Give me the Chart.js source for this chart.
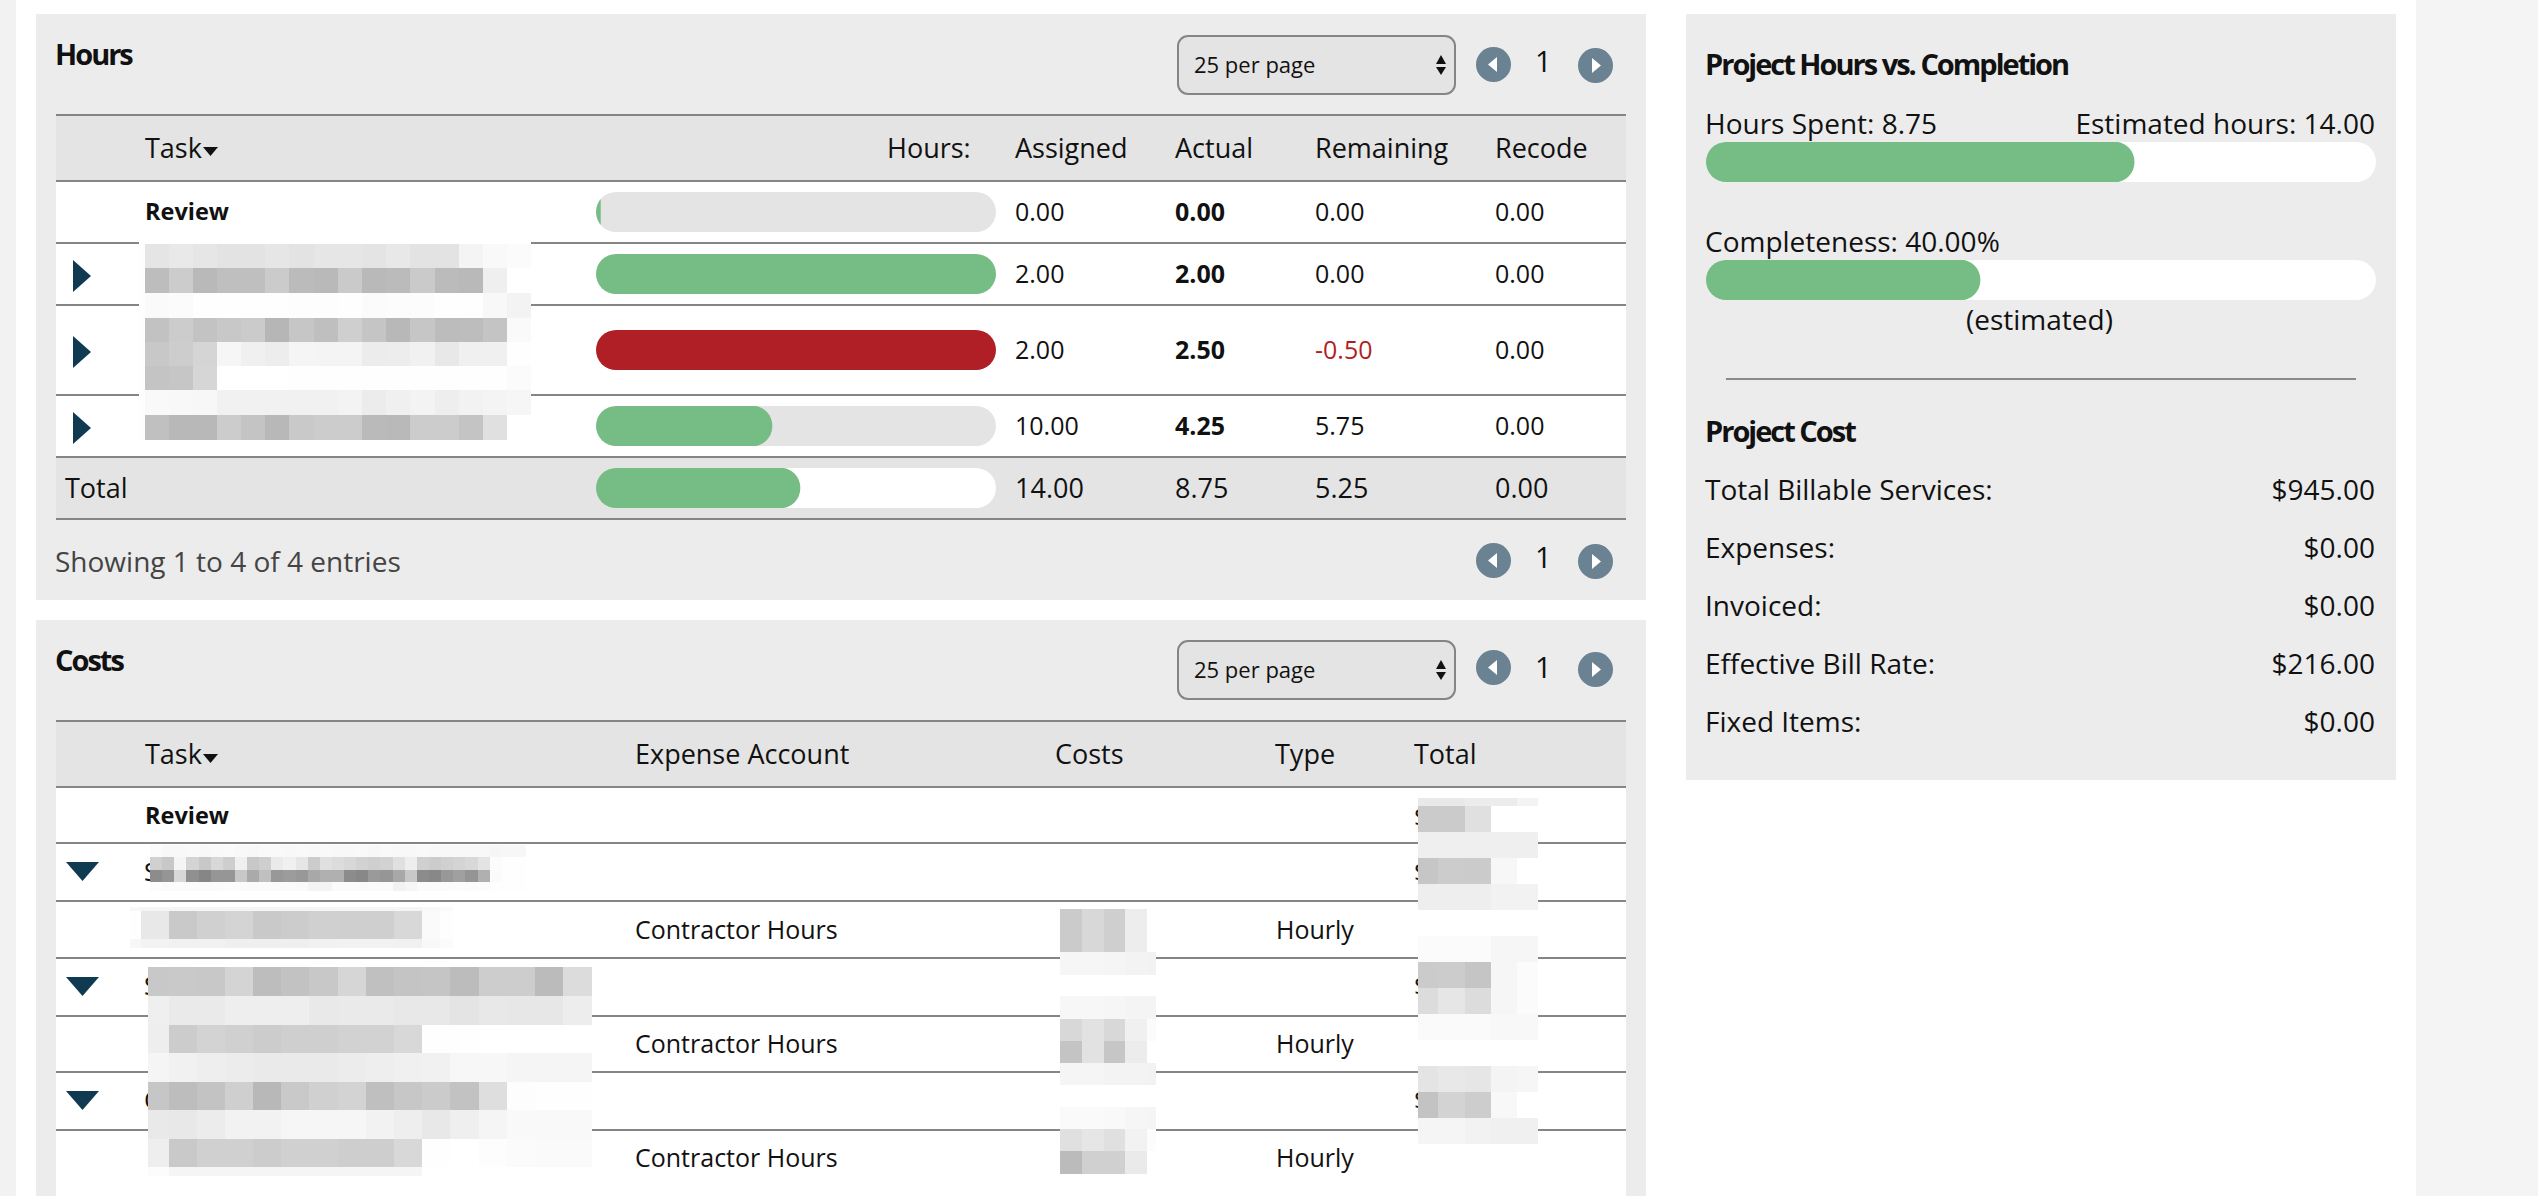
<!DOCTYPE html>
<html>
<head>
<meta charset="utf-8">
<title>Project hours</title>
<script src="https://cdn.jsdelivr.net/npm/chart.js@4/dist/chart.umd.min.js"></script>
<style>
html, body { margin: 0; padding: 0; width: 2538px; height: 1196px; overflow: hidden; background: #fff; }
body { position: relative; font-family: "Open Sans", sans-serif; color: #111; }
.box { position: absolute; }
.txt { position: absolute; white-space: nowrap; line-height: 40px; height: 40px; }
.bar { position: absolute; overflow: hidden; border-radius: 20px; }
.bar canvas { display: block; }
</style>
</head>
<body>
<script>
// hours table
var taskNames = ['Review', '', '', '', 'Total'];
var assigned = ['0.00', '2.00', '2.00', '10.00', '14.00'];
var actual = ['0.00', '2.00', '2.50', '4.25', '8.75'];
var remaining = ['0.00', '0.00', '-0.50', '5.75', '5.25'];
var recode = ['0.00', '0.00', '0.00', '0.00', '0.00'];
// bar lengths, percent of the track
var hoursFill = [1.1, 100, 100, 44, 51];
var hoursOver = [false, false, true, false, false];
var summaryLabels = ['Hours Spent', 'Completeness'];
var summaryFill = [63.9, 40.9];
// project cost
var costLabels = ['Total Billable Services:', 'Expenses:', 'Invoiced:', 'Effective Bill Rate:', 'Fixed Items:'];
var costValues = ['$945.00', '$0.00', '$0.00', '$216.00', '$0.00'];
// costs table
var costRows = ['Contractor Hours', 'Contractor Hours', 'Contractor Hours'];
var costTypes = ['Hourly', 'Hourly', 'Hourly'];

// redacted text, grey level of every mosaic cell
var blurHoursTask = [
    'fe e5 e9 e6 e3 e3 e6 e3 e6 e6 e4 e8 e3 e3 f4 f9 fb',
    'fe bd cc b9 bf bf cb bb b9 ca b9 bb ca bb b9 ef ff',
    'fe fa fb fe fe fe fe fd fd fe fb fc fc fe fe f8 f3',
    'fe c2 cc c3 c8 cb b6 c6 bf cf c5 b8 c6 bc bd c4 fa',
    'fe c8 cd d5 f6 f0 ed f5 f4 f4 ec ed f1 e8 f0 f0 fe',
    'fe c4 c6 d6 ff ff ff fe fe fe fe fe fe fe fe fe fb',
    'fe f9 f8 f7 f1 f1 f1 f1 f1 f3 ec f0 f3 ee f2 f4 f6',
    'fe c0 b8 b8 cc c4 b8 c9 cc cc ba b9 cc cc c4 e0 ff'
];
var blurCostTaskA = [
    'fb f8 f8 f9 f8 f9 fa f8 f7 f9 f9 f8 f9 f8 f9 f8 f8 f9 f7 f9 f8 f8 f9 f8 f8 f8 f8 f8 f6 f7 f7',
    'd0 c8 f5 d4 c8 d8 ce f0 c8 ce ea f0 e6 cc e0 dc d8 d2 cf d2 e0 ee d0 cc d0 d4 d8 e4 fc fe fe',
    '8c 95 d8 90 86 96 96 c8 aa c0 98 9c 98 a8 b0 b0 8c 88 9a 96 a8 c8 8c 88 98 a0 94 b0 fb fe fe',
    'fc fa fb fb fb fb fc fb fa fb fb fb fa f4 f4 fb fb fa fb fb f2 f6 fb fb fb fc fb fc fe fe fe'
];
var blurCostTaskB = [
    'f7 f5 f5 f5 f5 f5 f5 f5 f5 f5 f5 f8 fa',
    'fe e8 c9 d0 d4 c9 cc d0 cf cf d8 fa fe',
    'f7 f3 f1 f1 ef ef ef f1 f2 f2 f1 f8 fb'
];
var blurCostTaskC = [
    'c8 c9 c8 d4 bd c2 c8 d6 c0 c4 c5 bc cd cd bb dc',
    'ef ea ea ee ee ee e9 ea ea e8 e8 e4 e8 e7 e7 ed',
    'ee cc d3 d0 cc cf cf d2 d2 d8 fe fe ff ff ff ff',
    'f5 f1 ee ec ea ea ea ec ee f0 f1 f7 f7 f5 f5 f5',
    'c6 bd c3 cf b8 c9 d0 d3 bf c7 cb c2 de fd fe fe',
    'e9 e8 ec f2 f2 f6 f6 f6 f2 ee e8 ef f5 f9 f9 f9',
    'ee c9 d0 d0 cc d0 d0 ce ce d8 fe ff fd fb fa fa',
    'fc f5 f5 f5 f5 f5 f5 f5 f5 f5 ff ff ff ff ff ff'
];
var blurCostsA = ['cb d8 cf ed ff', 'cb d8 cf ed ff', 'f6 f6 f5 f3 f2'];
var blurCostsB = ['f7 f7 f6 f4 f4', 'd8 e2 d8 f0 fb', 'c4 e2 c6 ec ff', 'f5 f5 f3 f3 f2'];
var blurCostsC = ['fa fa f9 f6 f5', 'e0 e6 e0 f2 fc', 'bb d0 d0 ea ff'];
var blurTotal = [
    'e9 e9 ec ec f3', 'cb cb e0 ff ff', 'ef ef ef ef ef', 'c6 cc cb f7 ff', 'ee ee ee f2 f2',
    'ff ff ff ff ff', 'fb fb fb f6 f6', 'cb cc c5 f6 fb', 'dc e6 dc f6 fb', 'fa fa fa f8 f8',
    'ff ff ff ff ff', 'e4 e8 e6 f4 f6', 'c3 d3 cd f8 ff', 'f5 f5 f2 f0 f0'
];

var GREEN = '#75bd85', RED = '#b01f25', NAVY = '#0f3a52', SLATE = '#6a8291', LINE = '#858585', PANEL = '#ececec';

function box(x, y, w, h, bg, extra) {
    var d = document.createElement('div');
    d.className = 'box';
    d.style.cssText = 'left:' + x + 'px;top:' + y + 'px;width:' + w + 'px;height:' + h + 'px;background:' + bg + ';' + (extra || '');
    document.body.appendChild(d);
    return d;
}

// cy is the vertical centre of the text
function text(str, x, cy, size, extra) {
    var d = document.createElement('div');
    d.className = 'txt';
    d.textContent = str;
    d.style.cssText = 'left:' + x + 'px;top:' + (cy - 21) + 'px;font-size:' + size + 'px;' + (extra || '');
    document.body.appendChild(d);
    return d;
}
function textRight(str, right, cy, size, extra) {
    return text(str, 0, cy, size, 'left:auto;right:' + (2538 - right) + 'px;' + (extra || ''));
}
function title(str, x, cy) {
    return text(str, x, cy, 29, 'font-weight:700;letter-spacing:-2px;');
}

function triangle(x, y, w, h, color, dir) {
    var shapes = {
        right: 'polygon(0 0,100% 50%,0 100%)',
        left: 'polygon(100% 0,0 50%,100% 100%)',
        down: 'polygon(0 0,100% 0,50% 100%)',
        up: 'polygon(50% 0,100% 100%,0 100%)'
    };
    box(x, y, w, h, color, 'clip-path:' + shapes[dir] + ';');
}

function mosaic(rows, xs, ys) {
    rows.forEach(function (row, r) {
        row.split(' ').forEach(function (g, c) {
            box(xs[c], ys[r], xs[c + 1] - xs[c], ys[r + 1] - ys[r], '#' + g + g + g, 'z-index:2;');
        });
    });
}
function evenEdges(start, step, count) {
    var out = [];
    for (var i = 0; i <= count; i++) out.push(Math.round(start + step * i));
    return out;
}

// one chart per progress bar, rows of the table are not evenly spaced
function progress(name, value, x, y, w, color, track) {
    var wrap = document.createElement('div');
    wrap.className = 'bar';
    wrap.style.cssText = 'left:' + x + 'px;top:' + y + 'px;width:' + w + 'px;height:40px;z-index:1;';
    var canvas = document.createElement('canvas');
    canvas.width = w;
    canvas.height = 40;
    wrap.appendChild(canvas);
    document.body.appendChild(wrap);
    new Chart(canvas, {
        type: 'bar',
        data: {
            labels: [name],
            datasets: [
                { data: [value], backgroundColor: color, order: 1 },
                { data: [100], backgroundColor: track, order: 2 }
            ]
        },
        options: {
            indexAxis: 'y',
            responsive: false,
            animation: false,
            grouped: false,
            barPercentage: 1,
            categoryPercentage: 1,
            borderRadius: 20,
            borderSkipped: false,
            layout: { padding: 0 },
            plugins: { legend: { display: false }, tooltip: { enabled: false } },
            scales: {
                x: { display: false, min: 0, max: 100 },
                y: { display: false }
            }
        }
    });
}

function pager(leftY, rightY, numY) {
    box(1476, leftY, 35, 35, SLATE, 'border-radius:50%;');
    triangle(1488, leftY + 10, 9, 15, '#fff', 'left');
    text('1', 1535, numY, 29, 'font-weight:500;');
    box(1578, rightY, 35, 35, SLATE, 'border-radius:50%;');
    triangle(1592, rightY + 10, 9, 15, '#fff', 'right');
}
function perPage(y) {
    box(1177, y, 275, 56, '#e4e4e4', 'border:2px solid ' + LINE + ';border-radius:11px;');
    text('25 per page', 1194, y + 30, 22);
    triangle(1436, y + 20, 10, 9, '#111', 'up');
    triangle(1436, y + 32, 10, 8, '#111', 'down');
}
function hline(x, y, w) { box(x, y, w, 2, LINE); }

// page background
box(0, 0, 16, 1196, '#f2f2f2');
box(2416, 0, 122, 1196, '#f4f4f4');

// hours panel
box(36, 14, 1610, 586, PANEL);
title('Hours', 55, 55);
perPage(35);
pager(47, 48, 62);
box(56, 115, 1570, 66, '#e4e4e4');
box(56, 181, 1570, 276, '#fff');
box(56, 457, 1570, 62, '#e4e4e4');
[114, 180, 242, 304, 394, 456, 518].forEach(function (y) { hline(56, y, 1570); });

text('Task', 145, 149, 27);
triangle(203, 147, 15, 9, '#111', 'down');
text('Hours:', 887, 149, 27);
text('Assigned', 1015, 149, 27);
text('Actual', 1175, 149, 27);
text('Remaining', 1315, 149, 27);
text('Recode', 1495, 149, 27);

var hoursCy = [212, 274, 350, 426, 489];
var hoursBarY = [192, 254, 330, 406, 468];
hoursCy.forEach(function (cy, i) {
    var isTotal = i === 4;
    var size = isTotal ? 27 : 25;
    if (taskNames[i]) {
        if (isTotal) text(taskNames[i], 65, cy, 27);
        else text(taskNames[i], 145, cy, 23.5, 'font-weight:700;');
    }
    progress('Task ' + (i + 1), hoursFill[i], 596, hoursBarY[i], 400, hoursOver[i] ? RED : GREEN, isTotal ? '#fff' : '#e4e4e4');
    text(assigned[i], 1015, cy, size);
    text(actual[i], 1175, cy, size, isTotal ? '' : 'font-weight:700;');
    text(remaining[i], 1315, cy, size, remaining[i].charAt(0) === '-' ? 'color:' + RED + ';' : '');
    text(recode[i], 1495, cy, size);
});
[260, 336, 412].forEach(function (y) { triangle(73, y, 18, 32, NAVY, 'right'); });

box(139, 242, 392, 199, '#fff', 'z-index:1;');
mosaic(blurHoursTask, [139, 145, 169, 193, 217, 241, 265, 289, 314, 338, 362, 386, 410, 435, 459, 483, 507, 531],
    [244, 268, 293, 318, 342, 366, 390, 415, 440]);

text('Showing 1 to 4 of 4 entries', 55, 562, 28, 'color:#444;');
pager(543, 544, 558);

// costs panel
box(36, 620, 1610, 576, PANEL);
title('Costs', 55, 661);
perPage(640);
pager(650, 652, 668);
box(56, 721, 1570, 66, '#e4e4e4');
box(56, 787, 1570, 409, '#fff');
[720, 786, 842, 900, 957, 1015, 1071, 1129].forEach(function (y) { hline(56, y, 1570); });

text('Task', 145, 755, 27);
triangle(203, 754, 15, 9, '#111', 'down');
text('Expense Account', 635, 755, 27);
text('Costs', 1055, 755, 27);
text('Type', 1275, 755, 27);
text('Total', 1414, 755, 27);
text('Review', 145, 816, 23.5, 'font-weight:700;');
[862, 977, 1091].forEach(function (y) { triangle(66, y, 33, 19, NAVY, 'down'); });

['S', 'S', 'C'].forEach(function (ch, i) { text(ch, 144, [872, 986, 1100][i], 25); });
[817, 872, 986, 1100].forEach(function (cy) { text('$', 1414, cy, 25); });

var costCy = [930, 1044, 1158];
costCy.forEach(function (cy, i) {
    text(costRows[i], 635, cy, 25);
    text(costTypes[i], 1276, cy, 25);
});

mosaic(blurCostTaskA, evenEdges(150, 12.13, 31), [845, 857, 870, 882, 891]);
mosaic(blurCostTaskB, [130, 141, 169, 197, 225, 253, 281, 309, 338, 366, 394, 422, 440, 453], [907, 911, 939, 948]);
mosaic(blurCostTaskC, [148, 169, 197, 225, 253, 281, 309, 338, 366, 394, 422, 450, 479, 507, 535, 563, 592],
    [967, 996, 1025, 1053, 1082, 1110, 1139, 1167, 1176]);
var costXs = [1060, 1082, 1104, 1125, 1147, 1156];
mosaic(blurCostsA, costXs, [909, 931, 952, 975]);
mosaic(blurCostsB, costXs, [996, 1019, 1041, 1063, 1085]);
mosaic(blurCostsC, costXs, [1107, 1129, 1151, 1174]);
mosaic(blurTotal, [1418, 1438, 1465, 1491, 1517, 1538],
    [798, 806, 832, 858, 884, 910, 936, 962, 988, 1014, 1040, 1066, 1092, 1118, 1144]);

// summary panel
box(1686, 14, 710, 766, PANEL);
title('Project Hours vs. Completion', 1705, 65);
text('Hours Spent: 8.75', 1705, 124, 28);
textRight('Estimated hours: 14.00', 2375, 124, 28);
progress(summaryLabels[0], summaryFill[0], 1706, 142, 670, GREEN, '#fff');
text('Completeness: 40.00%', 1705, 242, 28);
progress(summaryLabels[1], summaryFill[1], 1706, 260, 670, GREEN, '#fff');
text('(estimated)', 1966, 320, 28);
box(1726, 378, 630, 2, '#8a8a8a');
title('Project Cost', 1705, 432);
costLabels.forEach(function (label, i) {
    var cy = 490 + i * 58;
    text(label, 1705, cy, 28);
    textRight(costValues[i], 2375, cy, 28);
});
</script>
</body>
</html>
